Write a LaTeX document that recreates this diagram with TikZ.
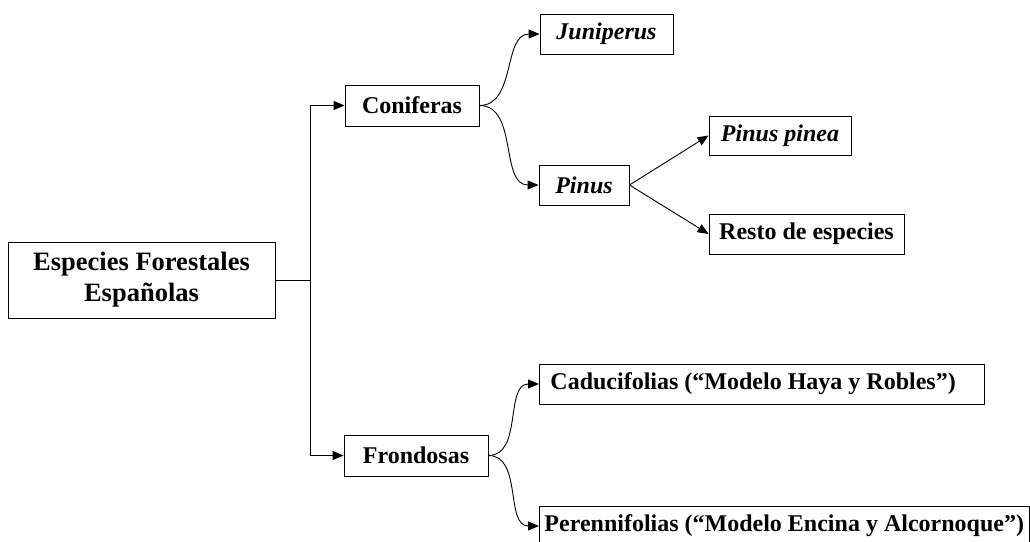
\documentclass[tikz,border=0pt]{standalone}
\usepackage{fontspec}
\setmainfont{Liberation Serif}
\usetikzlibrary{arrows.meta}
\tikzset{
  box/.style={draw, line width=0.9pt, inner sep=0pt, font=\fontsize{24}{28}\selectfont\bfseries},
  itbox/.style={box, font=\fontsize{24}{28}\selectfont\bfseries\itshape},
  arr/.style={line width=0.9pt, -{Triangle[length=11pt,width=9pt]}},
  ln/.style={line width=0.9pt}
}
\begin{document}
\begin{tikzpicture}[x=1pt,y=-1pt]
\useasboundingbox (0,0) rectangle (1030,541);
\clip (0,0) rectangle (1030,541);
\node[box, minimum width=267, minimum height=76, align=center, font=\fontsize{26.5}{31}\selectfont\bfseries] (main) at (141.5,280) {Especies Forestales\\Españolas};
\node[box, minimum width=134, minimum height=41] (con) at (412,105.5) {Coniferas};
\node[itbox, minimum width=133, minimum height=40] (jun) at (606.5,34) {Juniperus};
\node[itbox, minimum width=90, minimum height=40] (pin) at (584,185) {Pinus};
\node[itbox, minimum width=142, minimum height=39] (pp) at (780,135.5) {Pinus pinea};
\node[box, minimum width=195, minimum height=40] (res) at (806.5,234) {Resto de especies};
\node[box, minimum width=144, minimum height=41] (fro) at (416,455.5) {Frondosas};
\node[box, anchor=west, minimum height=40, inner xsep=11pt, text width=423, align=flush left] (cad) at (539,384) {Caducifolias (“Modelo Haya y Robles”)};
\node[box, anchor=west, minimum height=40, inner xsep=5pt] (per) at (539,526) {Perennifolias (“Modelo Encina y Alcornoque”)};
\coordinate (j) at (310,280);
\draw[ln] (main.east) -- (j);
\draw[arr] (j) |- (con.west);
\draw[arr] (j) |- (fro.west);
\draw[arr] (con.east) to[out=0,in=180] (jun.west);
\draw[arr] (con.east) to[out=0,in=180] (pin.west);
\draw[arr] (pin.east) -- (pp.west);
\draw[arr] (pin.east) -- (res.west);
\draw[arr] (fro.east) to[out=0,in=180] (cad.west);
\draw[arr] (fro.east) to[out=0,in=180] (per.west);
\end{tikzpicture}
\end{document}
